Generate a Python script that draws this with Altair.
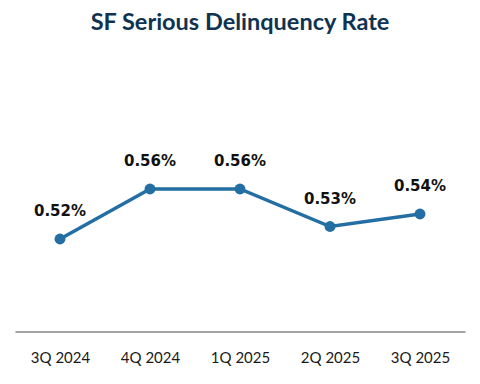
import altair as alt
import pandas as pd

quarters = ["3Q 2024", "4Q 2024", "1Q 2025", "2Q 2025", "3Q 2025"]
rates = [0.52, 0.56, 0.56, 0.53, 0.54]

df = pd.DataFrame({"quarter": quarters, "rate": rates})

LINE = "#236fa3"

x = alt.X(
    "quarter:N",
    sort=quarters,
    scale=alt.Scale(type="point", padding=0.5),
    axis=alt.Axis(
        title=None,
        labelAngle=0,
        ticks=False,
        grid=False,
        domainColor="#a3a3a3",
        domainWidth=2,
        labelFont="Lato",
        labelFontSize=15,
        labelColor="#1a1a1a",
        labelPadding=19,
    ),
)
y = alt.Y(
    "rate:Q",
    scale=alt.Scale(domain=[0.446, 0.646], nice=False, zero=False),
    axis=None,
)

base = alt.Chart(df).encode(x=x, y=y)

line = base.mark_line(color=LINE, strokeWidth=3.5)
pts = base.mark_circle(color=LINE, size=120, opacity=1)
labels = base.transform_calculate(
    label="format(datum.rate, '.2f') + '%'"
).mark_text(
    font="DejaVu Sans", fontWeight="bold", fontSize=15, dy=-23,
    baseline="alphabetic", color="#111111"
).encode(text="label:N")

chart = (line + pts + labels).properties(
    width=450,
    height=250,
    title=alt.TitleParams(
        "SF Serious Delinquency Rate",
        font="Lato",
        fontSize=23.5,
        fontWeight="bold",
        color="#0f3350",
        anchor="middle",
        offset=47,
    ),
    autosize=alt.AutoSizeParams(type="none"),
    padding={"left": 7, "top": 73.5, "right": 7, "bottom": 45},
).configure(background="white").configure_view(stroke=None, strokeWidth=0)

chart.save("out.html", embed_options={"renderer": "svg", "actions": False})
